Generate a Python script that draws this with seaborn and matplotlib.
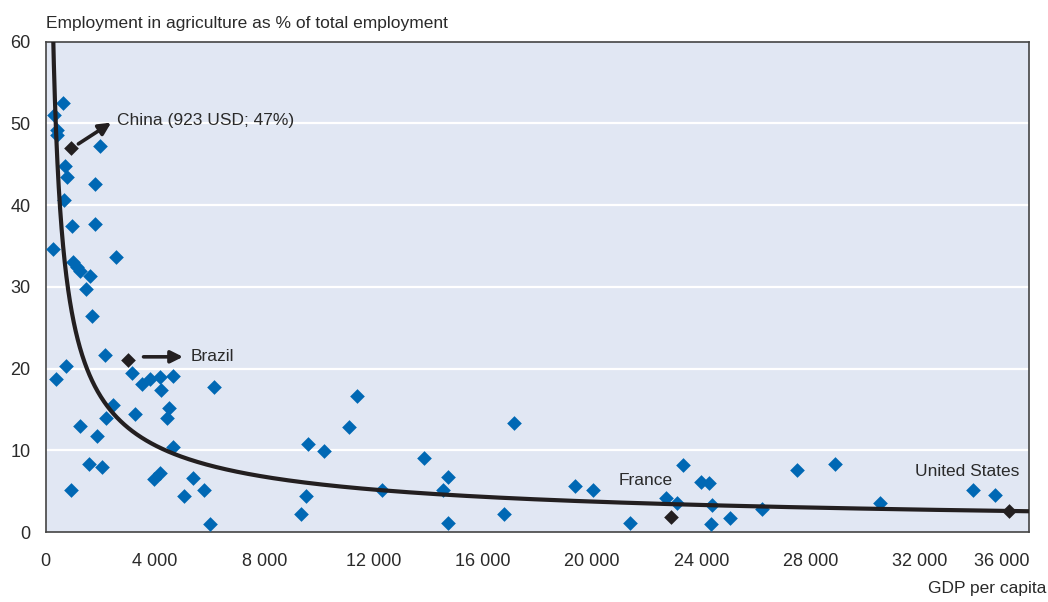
import numpy as np
import pandas as pd
import matplotlib.pyplot as plt
import seaborn as sns

# GDP per capita (USD) and agricultural share of employment (%)
gdp = [316, 646, 404, 404, 1993, 719, 771, 1809, 683, 954, 1809, 279, 2569, 991,
       1138, 1259, 1626, 1468, 1710, 2176, 745, 367, 3156, 3523, 3828, 4194, 4646,
       4231, 6176, 2481, 4499, 3277, 2213, 4440, 1259, 1894, 4646, 1600, 2077, 3949,
       4194, 5394, 5050, 917, 5783, 6004, 9358, 11387, 11105, 9615, 10187, 13835,
       17160, 14716, 14532, 12305, 9515, 14716, 16793, 19361, 20037, 21405, 23339,
       22701, 23130, 23974, 24294, 24404, 24341, 25050, 26239, 27500, 28881, 30554,
       33956, 34752]
agri = [51.0, 52.5, 49.2, 48.6, 47.2, 44.8, 43.5, 42.6, 40.6, 37.5, 37.7, 34.6, 33.7, 33.0,
        32.4, 31.9, 31.3, 29.7, 26.4, 21.7, 20.3, 18.7, 19.5, 18.1, 18.7, 19.0, 19.1,
        17.4, 17.7, 15.6, 15.2, 14.4, 14.0, 14.0, 13.0, 11.8, 10.4, 8.4, 8.0, 6.5,
        7.2, 6.6, 4.4, 5.1, 5.2, 1.0, 2.25, 16.7, 12.85, 10.8, 9.9, 9.1,
        13.3, 6.7, 5.1, 5.2, 4.4, 1.15, 2.25, 5.6, 5.2, 1.15, 8.2,
        4.2, 3.55, 6.1, 6.0, 3.35, 1.0, 1.7, 2.85, 7.6, 8.3, 3.55,
        5.2, 4.5]

# highlighted countries
hl_names = ["China", "Brazil", "France", "United States"]
hl_gdp = [923, 3031, 22884, 35266]
hl_agri = [47.0, 21.1, 1.8, 2.65]

# points read along the trend curve of the original
curve_gdp = [279, 404, 525, 734, 1321, 2727, 4317, 6396, 8844, 12268, 14958, 17404, 36000]
curve_agri = [60.0, 50.0, 40.0, 30.0, 20.0, 14.4, 10.3, 7.85, 6.4, 5.27, 4.57, 4.04, 2.5]

BLUE = "#0068b4"
DARK = "#231f20"
BG = "#e1e7f3"
TXT = "#2a2a2a"

sns.set_style("white", {"axes.facecolor": BG})
plt.rcParams["font.family"] = ["Liberation Sans", "DejaVu Sans"]

df = pd.DataFrame({"gdp": gdp, "agri": agri})
hl = pd.DataFrame({"name": hl_names, "gdp": hl_gdp, "agri": hl_agri})

fig = plt.figure(figsize=(10.48, 6.02), dpi=100)
ax = fig.add_axes([0.0436, 0.116, 0.9383, 0.8147])

for v in range(10, 60, 10):
    ax.axhline(v, color="white", lw=1.6, zorder=0)

# smooth trend through the read curve points (fit in log-log space)
coef = np.polyfit(np.log(curve_gdp), np.log(curve_agri), 2)
xs = np.geomspace(260, 36000, 600)
trend = pd.DataFrame({"gdp": xs, "agri": np.exp(np.polyval(coef, np.log(xs)))})

sns.scatterplot(data=df, x="gdp", y="agri", marker="D", s=56, color=BLUE,
                linewidth=0, ax=ax, zorder=3)
sns.lineplot(data=trend, x="gdp", y="agri", color=DARK, lw=3.0, ax=ax, zorder=4)
sns.scatterplot(data=hl, x="gdp", y="agri", marker="D", s=56, color=DARK,
                linewidth=0, ax=ax, zorder=5)

arrow = dict(arrowstyle="-|>", color=DARK, lw=2.6, mutation_scale=18, shrinkA=0, shrinkB=0)
ax.annotate("", xy=(2396, 50.1), xytext=(1196, 47.5), arrowprops=arrow, zorder=6)
ax.text(2628, 50.4, "China (923 USD; 47%)", fontsize=12.5, color=TXT, va="center")
ax.annotate("", xy=(5027, 21.45), xytext=(3582, 21.45), arrowprops=arrow, zorder=6)
ax.text(5295, 21.5, "Brazil", fontsize=12.5, color=TXT, va="center")
ax.text(21967, 6.35, "France", fontsize=12.5, color=TXT, ha="center", va="center")
ax.text(35655, 7.45, "United States", fontsize=12.5, color=TXT, ha="right", va="center")

ax.set_xlim(0, 36000)
ax.set_ylim(0, 60)
ax.set_xticks(range(0, 36001, 4000))
ax.set_xticklabels([f"{v:,}".replace(",", " ") for v in range(0, 36001, 4000)])
ax.set_yticks(range(0, 61, 10))
ax.get_xticklabels()[-1].set_ha("right")
ax.tick_params(axis="x", direction="in", length=6, width=1, color="#444444",
               pad=15, labelsize=13, labelcolor=TXT)
ax.tick_params(axis="y", length=0, pad=11, labelsize=13, labelcolor=TXT)
for s in ax.spines.values():
    s.set_color("#444444")
    s.set_linewidth(1.2)
ax.set_xlabel("")
ax.set_ylabel("")

fig.text(0.0436, 0.961, "Employment in agriculture as % of total employment",
         fontsize=12.5, color=TXT, va="center")
fig.text(0.998, 0.022, "GDP per capita", fontsize=12.5, color=TXT, ha="right", va="center")

fig.savefig("out.png", dpi=100)
